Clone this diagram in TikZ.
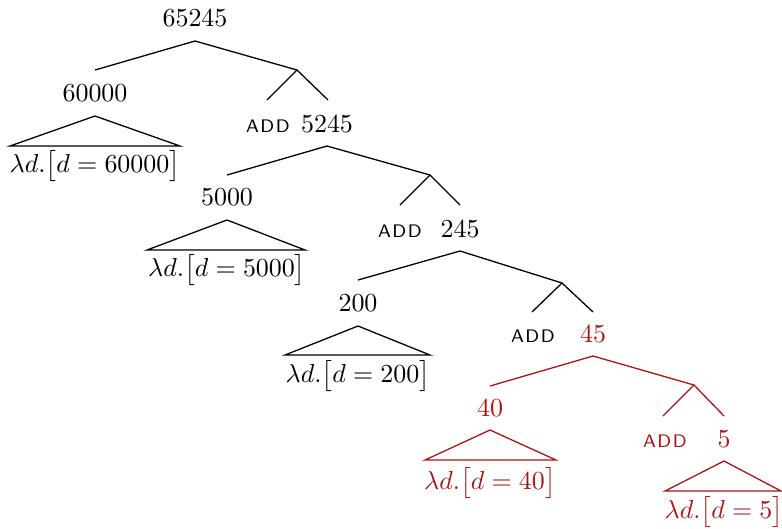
\documentclass[tikz,border=0pt]{standalone}
\usepackage{amsmath,amssymb}
\usepackage{xcolor}
\usetikzlibrary{positioning,calc}
\definecolor{hlred}{RGB}{165,22,22}
\newcommand{\addop}{\textsf{\fontsize{7}{8}\selectfont A\kern0.6pt D\kern0.6pt D}}

\begin{document}
\begin{tikzpicture}[
    x=0.01353cm,
    y=-0.01353cm,
    font=\normalsize,
    num/.style={inner sep=0pt, anchor=center},
    op/.style={inner sep=0pt, anchor=base},
    lam/.style={inner sep=0pt, anchor=center},
    br/.style={line width=0.5pt},
    hl/.style={hlred}
]
\useasboundingbox (0,0) rectangle (782,528);

% level 0
\node[num] (n65245) at (195,18) {65245};
\coordinate (t65245) at (195,41);
\coordinate (j5245) at (297,70);
\node[num] (n60000) at (95,93) {60000};
\coordinate (l60000) at (95,70);
\draw[br] (l60000) -- (t65245) -- (j5245);

% 60000 leaf
\coordinate (a60000) at (95,116);
\coordinate (b60000l) at (10,146);
\coordinate (b60000r) at (180,146);
\node[lam] (f60000) at (95,166) {$\lambda d.\big[d = 60000\big]$};
\draw[br] (b60000l) -- (a60000) -- (b60000r) -- cycle;

% ADD 5245
\node[op] (add1) at (268,132) {\addop};
\node[num] (n5245) at (327,124) {5245};
\coordinate (e1l) at (267,100);
\coordinate (e1r) at (328,100);
\draw[br] (e1l) -- (j5245) -- (e1r);

% level 1
\coordinate (t5245) at (327,146);
\coordinate (l5000) at (227,175);
\coordinate (j245) at (430,175);
\draw[br] (l5000) -- (t5245) -- (j245);
\node[num] (n5000) at (227,197) {5000};
\coordinate (a5000) at (227,220);
\coordinate (b5000l) at (147,250);
\coordinate (b5000r) at (305,250);
\node[lam] (f5000) at (227,270) {$\lambda d.\big[d = 5000\big]$};
\draw[br] (b5000l) -- (a5000) -- (b5000r) -- cycle;

% ADD 245
\node[op] (add2) at (400,237) {\addop};
\node[num] (n245) at (460,229) {245};
\coordinate (e2l) at (400,205);
\coordinate (e2r) at (460,205);
\draw[br] (e2l) -- (j245) -- (e2r);

% level 2
\coordinate (t245) at (460,251);
\coordinate (l200) at (358,280);
\coordinate (j45) at (562,283);
\draw[br] (l200) -- (t245) -- (j45);
\node[num] (n200) at (358,303) {200};
\coordinate (a200) at (358,326);
\coordinate (b200l) at (285,355);
\coordinate (b200r) at (430,355);
\node[lam] (f200) at (358,376) {$\lambda d.\big[d = 200\big]$};
\draw[br] (b200l) -- (a200) -- (b200r) -- cycle;

% ADD 45
\node[op] (add3) at (533,342) {\addop};
\node[num, hl] (n45) at (593,334) {45};
\coordinate (e3l) at (532,312);
\coordinate (e3r) at (593,312);
\draw[br] (e3l) -- (j45) -- (e3r);

% level 3 (highlighted)
\coordinate (t45) at (593,356);
\coordinate (l40) at (490,386);
\coordinate (j5) at (694,385);
\draw[br, hl] (l40) -- (t45) -- (j5);
\node[num, hl] (n40) at (490,408) {40};
\coordinate (a40) at (490,430);
\coordinate (b40l) at (425,460);
\coordinate (b40r) at (556,460);
\node[lam, hl] (f40) at (490,483) {$\lambda d.\big[d = 40\big]$};
\draw[br, hl] (b40l) -- (a40) -- (b40r) -- cycle;

% ADD 5
\node[op, hl] (add4) at (665,447) {\addop};
\node[num, hl] (n5) at (724,439) {5};
\coordinate (e4l) at (663,416);
\coordinate (e4r) at (724,416);
\draw[br, hl] (e4l) -- (j5) -- (e4r);

% 5 leaf
\coordinate (a5) at (724,461);
\coordinate (b5l) at (665,491);
\coordinate (b5r) at (781,491);
\node[lam, hl] (f5) at (724,512) {$\lambda d.\big[d = 5\big]$};
\draw[br, hl] (b5l) -- (a5) -- (b5r) -- cycle;

\end{tikzpicture}
\end{document}
